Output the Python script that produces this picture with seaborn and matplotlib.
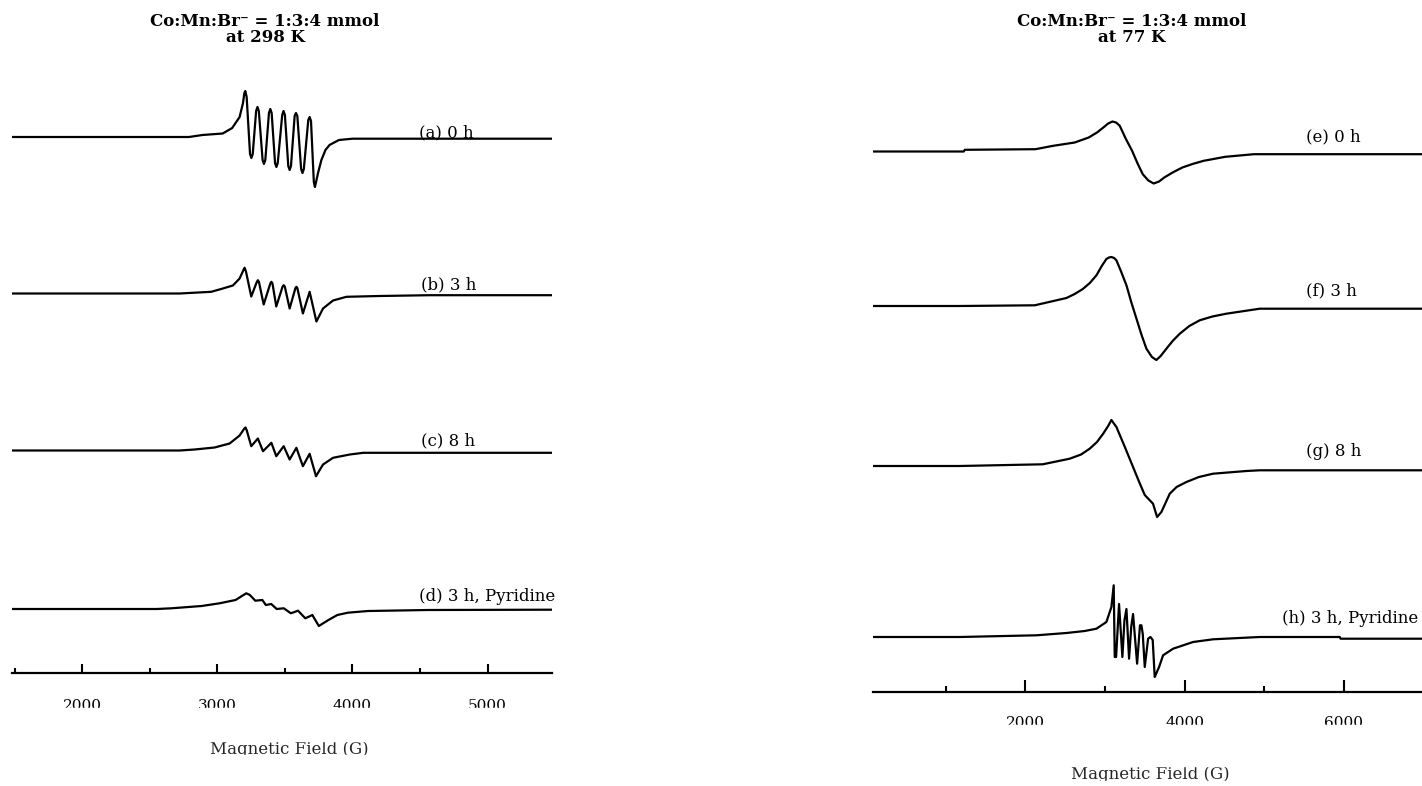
import numpy as np
import pandas as pd
import seaborn as sns
import matplotlib.pyplot as plt
from matplotlib.patches import Rectangle

# EPR spectra: field in G, signal in arbitrary units (up = positive)
# --- 298 K panel
a_field = [1481, 2790, 2890, 3040, 3110, 3165, 3190, 3200, 3207, 3217, 3242, 3252, 3262,
           3287, 3297, 3307, 3335, 3345, 3355, 3382, 3392, 3402, 3427, 3437, 3447,
           3480, 3490, 3500, 3525, 3535, 3545, 3572, 3582, 3592, 3620, 3630, 3640,
           3673, 3683, 3693, 3714, 3722, 3732, 3745, 3770, 3800, 3830, 3900, 4000, 5476]
a_signal = [0, 0, 2, 3.5, 9, 20, 34, 44, 46, 40, -17, -21, -17,
            26, 30, 26, -23, -27, -23, 24, 28, 24, -26, -30, -26,
            22, 26, 22, -29, -33, -29, 21, 24, 21, -32, -36, -32,
            17, 20, 16, -45, -50, -44, -36, -23, -13, -8, -3, -1.7, -1.7]

b_field = [1481, 2721, 2955, 3041, 3115, 3165, 3195, 3202, 3212, 3251, 3292, 3300, 3308,
           3343, 3392, 3400, 3408, 3436, 3483, 3491, 3499, 3535, 3578, 3585, 3592,
           3633, 3683, 3733, 3782, 3856, 3955, 4200, 4571, 5476]
b_signal = [0, 0, 1.7, 5, 8, 15, 24, 25.7, 22, -3, 11.5, 13.3, 11.5,
            -11, 10, 11.7, 10, -13, 7, 8.3, 7, -15, 5.5, 6.7, 5.5,
            -20, 1.7, -28, -15, -7, -3.3, -2.5, -1.7, -1.7]

c_field = [1481, 2721, 2832, 2980, 3091, 3165, 3200, 3209, 3218, 3251, 3300, 3338, 3400,
           3436, 3491, 3535, 3585, 3633, 3683, 3730, 3782, 3856, 3980, 4080, 5476]
c_signal = [0, 0, 1, 3, 7, 15, 22, 23, 20, 4.3, 12, -0.7, 7.7,
            -5.7, 4.3, -9, 2.7, -15.7, -3.3, -25.7, -14, -7.3, -4, -2.3, -2.3]

d_field = [1481, 2553, 2660, 2884, 3016, 3135, 3214, 3241, 3281, 3333, 3359, 3399, 3439,
           3492, 3544, 3597, 3651, 3703, 3751, 3822, 3888, 3966, 4114, 4562, 5476]
d_signal = [0, 0, 0.7, 3, 5.7, 9, 15.7, 14, 8.3, 9, 4, 5, 0,
            0.7, -4.3, -1.7, -9.3, -6, -17, -11, -6, -3.7, -2, -1, -0.7]

# --- 77 K panel
e_field = [86, 1226, 1240, 2126, 2350, 2620, 2796, 2900, 2980, 3040, 3094, 3140, 3186,
           3260, 3341, 3410, 3475, 3545, 3612, 3680, 3745, 3850, 3972, 4100, 4240,
           4512, 4870, 6983]
e_signal = [0, 0, 1.7, 2.3, 5.7, 9, 14, 19, 24, 28, 30, 29, 25.7,
            13, 0.7, -12, -22.7, -29, -32, -30, -26, -21, -16, -12.5, -9.3,
            -5.3, -2.7, -2.7]

f_field = [86, 1176, 2118, 2516, 2620, 2722, 2810, 2893, 2960, 3018, 3050, 3081, 3115,
           3144, 3200, 3270, 3330, 3396, 3460, 3521, 3590, 3646, 3700, 3772, 3850,
           3940, 4060, 4190, 4350, 4525, 4944, 6983]
f_signal = [0, 0, 0.7, 8, 12, 17, 23, 30.7, 40, 47, 48.5, 49, 48,
            45.7, 35, 20.7, 4, -12.7, -29, -42.7, -51, -54, -50, -42.7, -35,
            -27.7, -20, -14.3, -10.5, -7.7, -2.7, -2.7]

g_field = [86, 1176, 2218, 2557, 2700, 2808, 2900, 2975, 3040, 3081, 3144, 3250, 3353,
           3430, 3500, 3604, 3655, 3709, 3814, 3900, 4023, 4180, 4358, 4777, 4944, 6983]
g_signal = [0, 0, 1.7, 7.3, 11.5, 17.3, 24, 32, 40, 46, 39, 19, -1,
            -16, -29, -37.7, -51, -46, -27.7, -21, -16, -11, -7.7, -5, -4.3, -4.3]

h_field = [86, 1176, 2139, 2516, 2746, 2893, 3018, 3081, 3110, 3123, 3140, 3177, 3219,
           3245, 3270, 3303, 3330, 3353, 3404, 3440, 3458, 3475, 3500, 3542, 3572, 3600,
           3625, 3680, 3730, 3856, 4107, 4358, 4944, 5950, 5960, 6983]
h_signal = [0, 0, 1.7, 4, 6, 8.3, 15, 30, 51.7, -20, -20, 33, -20,
            16.7, 28, -21.7, 10, 23, -26.7, 11.7, 11.7, 3, -30, -1.7, 0, -3,
            -40, -30, -18.3, -11.7, -5, -2.3, 0, 0, -1.7, -1.7]

left_traces = {'a': (a_field, a_signal), 'b': (b_field, b_signal),
               'c': (c_field, c_signal), 'd': (d_field, d_signal)}
right_traces = {'e': (e_field, e_signal), 'f': (f_field, f_signal),
                'g': (g_field, g_signal), 'h': (h_field, h_signal)}

left_labels = {'a': '(a) 0 h', 'b': '(b) 3 h', 'c': '(c) 8 h', 'd': '(d) 3 h, Pyridine'}
right_labels = {'e': '(e) 0 h', 'f': '(f) 3 h', 'g': '(g) 8 h', 'h': '(h) 3 h, Pyridine'}

left_title = ['Co:Mn:Br\u207b = 1:3:4 mmol', 'at 298 K']
right_title = ['Co:Mn:Br\u207b = 1:3:4 mmol', 'at 77 K']

# ---- style / layout (pixels of the 1422x786 picture)
sns.set_theme(style='white')
plt.rcParams['font.family'] = ['DejaVu Serif']
plt.rcParams['text.color'] = 'black'
plt.rcParams['xtick.color'] = 'black'

W, H = 1422, 786
fig = plt.figure(figsize=(W / 100, H / 100), dpi=100)


def add_px_axes(x0, x1, y_axis, y_top):
    return fig.add_axes([x0 / W, (H - y_axis) / H, (x1 - x0) / W, (y_axis - y_top) / H])


def draw_panel(ax, traces, baselines, labels, label_x, label_lift, xlim, major, minor,
               y_axis, y_top, tick_len, pad, xlabel_x, xlabel_top):
    frames = []
    for key, (field, signal) in traces.items():
        frames.append(pd.DataFrame({'field': field,
                                    'signal': np.array(signal) + (y_axis - baselines[key]),
                                    'trace': key}))
    df = pd.concat(frames, ignore_index=True)
    sns.lineplot(data=df, x='field', y='signal', units='trace', estimator=None,
                 sort=False, color='black', lw=1.6, ax=ax)
    for key, text in labels.items():
        ax.text(label_x[key], y_axis - baselines[key] + label_lift[key], text,
                fontsize=12, ha='left', va='baseline', clip_on=False)
    ax.set_xlim(*xlim)
    ax.set_ylim(0, y_axis - y_top)
    ax.set_yticks([])
    ax.set_ylabel('')
    ax.set_facecolor('none')
    sns.despine(ax=ax, left=True)
    ax.spines['bottom'].set_color('black')
    ax.spines['bottom'].set_linewidth(1.6)
    ax.set_xticks(major)
    ax.set_xticklabels([str(v) for v in major])
    ax.set_xticks(minor, minor=True)
    ax.tick_params(axis='x', which='major', direction='in', length=tick_len[0], width=1.5,
                   pad=pad, labelsize=11, bottom=True)
    ax.tick_params(axis='x', which='minor', direction='in', length=tick_len[1], width=1.5,
                   bottom=True)
    ax.set_xlabel('Magnetic Field (G)', fontsize=12, va='top')
    ax.xaxis.set_label_coords(xlabel_x, -(xlabel_top - y_axis) / (y_axis - y_top))


# left panel: 298 K
axL = add_px_axes(12, 552, 673, 60)
draw_panel(axL, left_traces,
           baselines={'a': 137, 'b': 293.5, 'c': 450.5, 'd': 609},
           labels=left_labels,
           label_x={'a': 4491, 'b': 4508, 'c': 4508, 'd': 4491},
           label_lift={'a': 0, 'b': 4, 'c': 5, 'd': 8},
           xlim=(1481, 5476), major=[2000, 3000, 4000, 5000],
           minor=[1500, 2500, 3500, 4500], y_axis=673, y_top=60,
           tick_len=(6.7, 3.6), pad=19, xlabel_x=0.513, xlabel_top=741)

# right panel: 77 K
axR = add_px_axes(873, 1422, 692, 60)
draw_panel(axR, right_traces,
           baselines={'e': 151.5, 'f': 306, 'g': 466, 'h': 637},
           labels=right_labels,
           label_x={'e': 5520, 'f': 5520, 'g': 5520, 'h': 5220},
           label_lift={'e': 10, 'f': 11, 'g': 10, 'h': 14},
           xlim=(86, 6983), major=[2000, 4000, 6000],
           minor=[1000, 3000, 5000], y_axis=692, y_top=60,
           tick_len=(9, 4.3), pad=17, xlabel_x=0.506, xlabel_top=766)

# titles
for cx, lines in [(265, left_title), (1132, right_title)]:
    fig.text(cx / W, 1 - 21.5 / H, lines[0], ha='center', va='center',
             fontsize=12, fontweight='bold')
    fig.text(cx / W, 1 - 37.5 / H, lines[1], ha='center', va='center',
             fontsize=12, fontweight='bold')

# the original scan cuts the bottom of the axis texts
for x0, x1, y0, y1 in [(0, 570, 708, 741), (0, 570, 755, 786),
                       (860, 1422, 725, 766), (860, 1422, 781, 786)]:
    fig.add_artist(Rectangle((x0 / W, 1 - y1 / H), (x1 - x0) / W, (y1 - y0) / H,
                             transform=fig.transFigure, color='white', zorder=5))

fig.savefig('out.png', dpi=100, facecolor='white')
